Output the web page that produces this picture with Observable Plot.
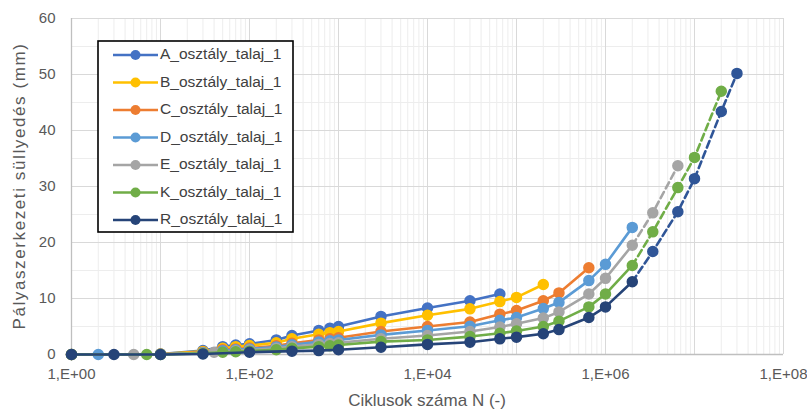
<!DOCTYPE html>
<html><head><meta charset="utf-8">
<script src="https://cdn.jsdelivr.net/npm/d3@7"></script>
<script src="https://cdn.jsdelivr.net/npm/@observablehq/plot@0.6"></script>
<style>
body{margin:0;background:#fff}
#chart{position:relative;width:807px;height:412px}
</style>
</head><body><div id="chart"></div>
<script>
// ---- data ----
const seriesNames = ["A_osztály_talaj_1","B_osztály_talaj_1","C_osztály_talaj_1","D_osztály_talaj_1","E_osztály_talaj_1","K_osztály_talaj_1","R_osztály_talaj_1"];
const seriesColors = ["#4472C4","#FFC000","#ED7D31","#5B9BD5","#A5A5A5","#70AD47","#264478"];

const N_A = [1, 10, 30, 50, 70, 100, 200, 300, 600, 800, 1000, 3000, 1e4, 3e4, 6.5e4];
const S_A = [0, 0.1, 0.7, 1.4, 1.7, 1.9, 2.6, 3.4, 4.3, 4.7, 5.0, 6.8, 8.3, 9.6, 10.8];

const N_B = [1, 10, 30, 50, 70, 100, 200, 300, 600, 800, 1000, 3000, 1e4, 3e4, 6.5e4, 1e5, 2e5];
const S_B = [0, 0.08, 0.55, 1.1, 1.4, 1.6, 2.1, 2.8, 3.6, 3.9, 4.1, 5.6, 7.0, 8.15, 9.45, 10.2, 12.5];

const N_C = [1, 10, 30, 50, 70, 100, 200, 300, 600, 800, 1000, 3000, 1e4, 3e4, 6.5e4, 1e5, 2e5, 3e5, 6.5e5];
const S_C = [0, 0.05, 0.4, 0.85, 1.0, 1.15, 1.55, 2.0, 2.6, 2.8, 3.0, 4.1, 5.0, 5.8, 7.2, 7.85, 9.6, 11.0, 15.5];

const N_D = [1, 2, 10, 30, 50, 70, 100, 200, 300, 600, 800, 1000, 3000, 1e4, 3e4, 6.5e4, 1e5, 2e5, 3e5, 6.5e5, 1e6, 2e6];
const S_D = [0, 0, 0.03, 0.3, 0.65, 0.85, 1.0, 1.35, 1.75, 2.25, 2.45, 2.6, 3.5, 4.3, 5.05, 6.1, 6.6, 8.2, 9.3, 13.2, 16.1, 22.7];

const N_E = [1, 5, 10, 30, 40, 70, 100, 200, 300, 600, 800, 1000, 3000, 1e4, 3e4, 6.5e4, 1e5, 2e5, 3e5, 6.5e5, 1e6, 2e6];
const S_E = [0, 0, 0.02, 0.25, 0.4, 0.65, 0.8, 1.1, 1.4, 1.8, 1.95, 2.1, 2.8, 3.4, 4.1, 4.9, 5.5, 6.5, 7.6, 10.8, 13.6, 19.5];

const N_K = [1, 7, 10, 30, 50, 70, 100, 200, 300, 600, 800, 1000, 3000, 1e4, 3e4, 6.5e4, 1e5, 2e5, 3e5, 6.5e5, 1e6, 2e6];
const S_K = [0, 0, 0.01, 0.2, 0.4, 0.5, 0.6, 0.85, 1.1, 1.4, 1.55, 1.7, 2.3, 2.6, 3.2, 3.8, 4.2, 5.0, 5.95, 8.5, 10.8, 15.9];

const N_R = [1, 3, 10, 30, 100, 300, 600, 1000, 3000, 1e4, 3e4, 6.5e4, 1e5, 2e5, 3e5, 6.5e5, 1e6, 2e6];
const S_R = [0, 0, 0, 0.1, 0.4, 0.6, 0.7, 0.85, 1.3, 1.8, 2.2, 2.8, 3.1, 3.7, 4.45, 6.6, 8.5, 13.0];

// dashed extensions (not in legend)
const extColors = ["#A5A5A5","#70AD47","#2F5597"];
const N_Eext = [2e6, 3.4e6, 6.5e6];
const S_Eext = [19.5, 25.3, 33.7];
const N_Kext = [2e6, 3.4e6, 6.5e6, 1e7, 2e7];
const S_Kext = [15.9, 21.9, 29.8, 35.2, 47.0];
const N_Rext = [2e6, 3.4e6, 6.5e6, 1e7, 2e7, 3e7];
const S_Rext = [13.0, 18.4, 25.5, 31.4, 43.4, 50.2];

const xTickValues = [1, 1e2, 1e4, 1e6, 1e8];
const xTickLabels = ["1,E+00","1,E+02","1,E+04","1,E+06","1,E+08"];
const yTickValues = [0, 10, 20, 30, 40, 50, 60];
const yMinorValues = [5, 15, 25, 35, 45, 55];
const xTitle = "Ciklusok száma N (-)";
const yTitle = "Pályaszerkezeti süllyedés (mm)";

// ---- build tables ----
const solidN = [N_A, N_B, N_C, N_D, N_E, N_K, N_R];
const solidS = [S_A, S_B, S_C, S_D, S_E, S_K, S_R];
const series = seriesNames.map((name, i) => ({
  name, color: seriesColors[i],
  data: solidN[i].map((n, j) => ({N: n, s: solidS[i][j]}))
}));
const extN = [N_Eext, N_Kext, N_Rext];
const extS = [S_Eext, S_Kext, S_Rext];
const ext = extN.map((ns, i) => ({
  color: extColors[i],
  data: ns.map((n, j) => ({N: n, s: extS[i][j]}))
}));

// grid helper values (log minor ticks per decade)
const decades = d3.range(0, 9).map(k => Math.pow(10, k));
const minorX = [];
decades.slice(0, 8).forEach(d => { for (let m = 2; m <= 9; m++) minorX.push(d * m); });

const marks = [
  Plot.ruleX(minorX, {x: d => d, stroke: "#EDEDED", strokeWidth: 1}),
  Plot.ruleY(yMinorValues, {y: d => d, stroke: "#EDEDED", strokeWidth: 1}),
  Plot.ruleX(decades, {x: d => d, stroke: "#D9D9D9", strokeWidth: 1}),
  Plot.ruleY(yTickValues, {y: d => d, stroke: "#D9D9D9", strokeWidth: 1}),
  Plot.ruleY([0], {stroke: "#BFBFBF", strokeWidth: 1.3}),
  Plot.ruleX([1], {stroke: "#BFBFBF", strokeWidth: 1.3}),
  Plot.axisX(xTickValues, {tickSize: 0, tickPadding: 14, tickFormat: d => xTickLabels[xTickValues.indexOf(d)], label: null, fontSize: 15}),
  Plot.axisY(yTickValues, {tickSize: 0, tickPadding: 16, label: null, fontSize: 15})
];
ext.forEach(e => {
  marks.push(Plot.line(e.data, {x: "N", y: "s", stroke: e.color, strokeWidth: 2.6, strokeDasharray: "7,4"}));
  marks.push(Plot.dot(e.data.slice(1), {x: "N", y: "s", r: 5, fill: e.color, stroke: e.color}));
});
series.forEach(sr => {
  marks.push(Plot.line(sr.data, {x: "N", y: "s", stroke: sr.color, strokeWidth: 2.6}));
  marks.push(Plot.dot(sr.data, {x: "N", y: "s", r: 5, fill: sr.color, stroke: sr.color}));
});

const chart = Plot.plot({
  width: 807, height: 412,
  marginLeft: 71, marginRight: 24, marginTop: 18, marginBottom: 58,
  style: {fontFamily: "'Liberation Sans', Arial, sans-serif", fontSize: "15px", color: "#595959", background: "#fff"},
  x: {type: "log", domain: [1, 1e8]},
  y: {domain: [0, 60]},
  marks
});
document.getElementById("chart").appendChild(chart);

// ---- titles and legend ----
const svg = d3.select(chart);
svg.append("text")
  .attr("x", (71 + 783) / 2).attr("y", 402)
  .attr("text-anchor", "middle").attr("dominant-baseline", "middle")
  .attr("fill", "#595959").style("font-size", "17px")
  .text(xTitle);
svg.append("text")
  .attr("transform", `translate(21,${(18 + 354) / 2}) rotate(-90)`)
  .attr("text-anchor", "middle").attr("dominant-baseline", "middle")
  .attr("fill", "#595959").style("font-size", "17px").style("letter-spacing", "1.6px")
  .text(yTitle);

const lg = svg.append("g");
lg.append("rect").attr("x", 98).attr("y", 41).attr("width", 195).attr("height", 191)
  .attr("fill", "#fff").attr("stroke", "#000").attr("stroke-width", 1.6);
series.forEach((sr, i) => {
  const y = 55 + i * 27.5;
  lg.append("line").attr("x1", 113).attr("x2", 158).attr("y1", y).attr("y2", y)
    .attr("stroke", sr.color).attr("stroke-width", 2.6);
  lg.append("circle").attr("cx", 135.5).attr("cy", y).attr("r", 5).attr("fill", sr.color);
  lg.append("text").attr("x", 160).attr("y", y).attr("dominant-baseline", "middle")
    .attr("text-anchor", "start")
    .attr("fill", "#404040").style("font-size", "15.5px").text(sr.name);
});
</script>
</body></html>
